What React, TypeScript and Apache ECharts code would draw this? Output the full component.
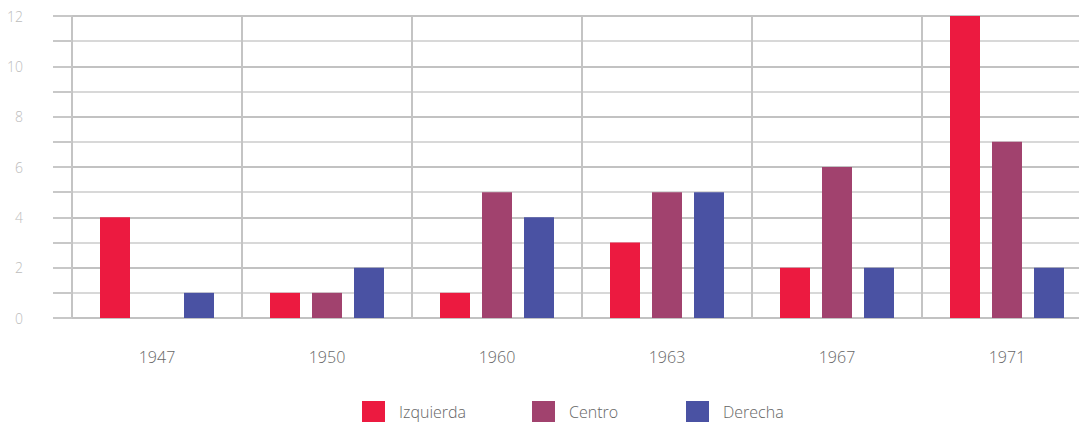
import React, { useEffect, useRef } from "react";
import * as echarts from "echarts";

const categories = ["1947", "1950", "1960", "1963", "1967", "1971"];
const seriesNames = ["Izquierda", "Centro", "Derecha"];
const izquierda = [4, 1, 1, 3, 2, 12];
const centro = [0, 1, 5, 5, 6, 7];
const derecha = [1, 2, 4, 5, 2, 2];
const yMin = 0;
const yMax = 12;

const FONT = "'Open Sans', 'Noto Sans', sans-serif";
const legendLefts = [362, 532, 686];

export default function App() {
  const ref = useRef<HTMLDivElement>(null);
  useEffect(() => {
    document.body.style.margin = "0";
    const chart = echarts.init(ref.current!, null, { renderer: "svg" });
    chart.setOption({
      animation: false,
      textStyle: { fontFamily: FONT },
      grid: { left: 72, right: 8, top: 16, bottom: 104, containLabel: false },
      legend: seriesNames.map((n, i) => ({
        data: [n],
        left: legendLefts[i],
        top: 401,
        padding: 0,
        itemWidth: 23,
        itemHeight: 21,
        icon: "rect",
        textStyle: { color: "#666", fontSize: 16, fontFamily: FONT, fontWeight: 300, padding: [0, 0, 0, 9] },
      })),
      xAxis: {
        type: "category",
        data: categories,
        boundaryGap: true,
        axisLine: { show: true, lineStyle: { color: "#c2c2c2", width: 2 } },
        axisTick: { show: false },
        axisLabel: { color: "#666", fontSize: 16, fontWeight: 300, margin: 31, fontFamily: FONT },
        splitLine: { show: true, lineStyle: { color: "#c4c4c4", width: 2 } },
      },
      yAxis: {
        type: "value",
        min: yMin,
        max: yMax,
        interval: 1,
        axisLine: { show: true, lineStyle: { color: "#c4c4c4", width: 2 } },
        axisTick: { show: true, length: 19, lineStyle: { color: "#c8c8c8", width: 2 } },
        axisLabel: {
          color: "#bcbcbc",
          fontSize: 14,
          fontWeight: 300,
          margin: 49,
          fontFamily: FONT,
          formatter: (v: number) => (v % 2 === 0 ? String(v) : ""),
        },
        splitLine: { show: true, lineStyle: { color: ["#c2c2c2", "#d8d8d8"], width: 2 } },
      },
      series: [
        { name: "Izquierda", type: "bar", data: izquierda, barWidth: 30, barGap: "40%", itemStyle: { color: "#EC1A40" } },
        { name: "Centro", type: "bar", data: centro, barWidth: 30, barGap: "40%", itemStyle: { color: "#A1426E" } },
        { name: "Derecha", type: "bar", data: derecha, barWidth: 30, barGap: "40%", itemStyle: { color: "#4A52A3" } },
      ],
    });
    return () => chart.dispose();
  }, []);
  return (
    <div style={{ width: 1079, height: 422, overflow: "hidden", position: "relative" }}>
      <div ref={ref} style={{ width: 1100, height: 422 }} />
    </div>
  );
}
